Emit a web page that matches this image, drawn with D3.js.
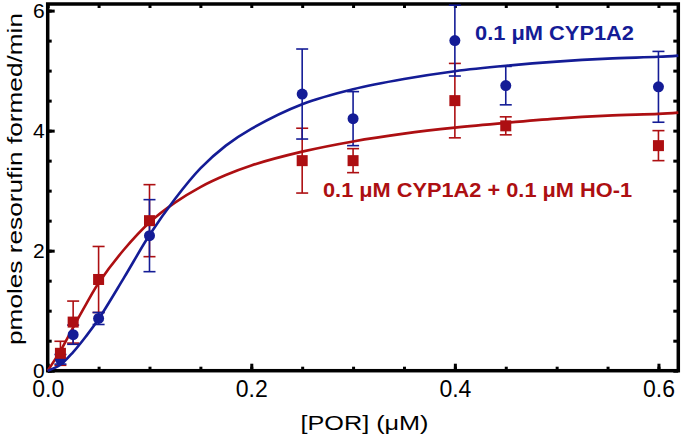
<!DOCTYPE html>
<html>
<head>
<meta charset="utf-8">
<script src="https://cdn.jsdelivr.net/npm/d3@7"></script>
<style>
  html, body { margin: 0; padding: 0; background: #fff; }
  svg { display: block; }
</style>
</head>
<body>
<svg id="chart" width="683" height="438"></svg>
<script>
// ---- data ----
const porConc = [0.0125, 0.025, 0.05, 0.1, 0.25, 0.3, 0.4, 0.45, 0.6];
const cypRate = [0.19, 0.6, 0.87, 2.25, 4.61, 4.2, 5.5, 4.75, 4.73];
const cypErr  = [0.08, 0.16, 0.1, 0.6, 0.75, 0.45, 0.59, 0.32, 0.59];
const hoRate  = [0.29, 0.81, 1.52, 2.5, 3.5, 3.5, 4.5, 4.08, 3.75];
const hoErr   = [0.2, 0.35, 0.55, 0.6, 0.54, 0.2, 0.62, 0.15, 0.25];

const fitX    = [0, 0.0125, 0.025, 0.0375, 0.05, 0.075, 0.1, 0.125, 0.15, 0.175, 0.2, 0.25, 0.3, 0.35, 0.4, 0.45, 0.5, 0.55, 0.6, 0.6195];
const cypFit  = [0, 0.1, 0.31, 0.57, 0.86, 1.55, 2.26, 2.86, 3.37, 3.75, 4.03, 4.44, 4.69, 4.86, 4.99, 5.08, 5.15, 5.2, 5.23, 5.25];
const hoFit   = [0, 0.33, 0.72, 1.1, 1.46, 2.02, 2.47, 2.8, 3.06, 3.26, 3.42, 3.65, 3.82, 3.95, 4.05, 4.13, 4.2, 4.25, 4.28, 4.3];

const xTicks = [0, 0.2, 0.4, 0.6];
const yTicks = [0, 2, 4, 6];
const xLabel = "[POR] (μM)";
const yLabel = "pmoles resorufin formed/min";
const cypLabel = "0.1 μM CYP1A2";
const hoLabel = "0.1 μM CYP1A2 + 0.1 μM HO-1";

// ---- layout ----
const blue = "#141c96", red = "#ad0f12";
const L = 47.7, R = 678.3, T = 4, B = 370.7;
const x = d3.scaleLinear().domain([0, 0.6195]).range([L, R]);
const y = d3.scaleLinear().domain([0, 6.11]).range([B, T]);
const svg = d3.select("#chart");
const font = "'Liberation Sans', Arial, Helvetica, sans-serif";

const minorX = d3.range(0, 0.62, 0.05);
const minorY = d3.range(0, 6.01, 0.5);

function styleAxis(g) {
  g.select(".domain").remove();
  g.selectAll(".tick line").attr("stroke", "#000").attr("stroke-width", 3);
}
// bottom
svg.append("g").attr("transform", `translate(0,${B})`)
  .call(d3.axisBottom(x).tickValues(minorX).tickSize(-4).tickFormat(""))
  .call(styleAxis);
svg.append("g").attr("transform", `translate(0,${B})`)
  .call(d3.axisBottom(x).tickValues(xTicks).tickSize(-7).tickPadding(0).tickFormat(d3.format(".1f")))
  .call(styleAxis)
  .call(g => g.selectAll(".tick text").attr("y", 26.5).attr("dy", 0)
     .attr("font-family", font).attr("font-size", 23).attr("fill", "#000"));
// top
svg.append("g").attr("transform", `translate(0,${T})`)
  .call(d3.axisTop(x).tickValues(minorX).tickSize(-4).tickFormat(""))
  .call(styleAxis);
// left
svg.append("g").attr("transform", `translate(${L},0)`)
  .call(d3.axisLeft(y).tickValues(minorY).tickSize(-4).tickFormat(""))
  .call(styleAxis);
svg.append("g").attr("transform", `translate(${L},0)`)
  .call(d3.axisLeft(y).tickValues(yTicks).tickSize(-7).tickFormat(d3.format("d")))
  .call(styleAxis)
  .call(g => g.selectAll(".tick text").attr("x", -3).attr("dy", "0.33em")
     .attr("font-family", font).attr("font-size", 21).attr("fill", "#000"));
// right
svg.append("g").attr("transform", `translate(${R},0)`)
  .call(d3.axisRight(y).tickValues(minorY).tickSize(-5).tickFormat(""))
  .call(styleAxis);

// frame
svg.append("rect").attr("x", L).attr("y", T).attr("width", R - L).attr("height", B - T)
  .attr("fill", "none").attr("stroke", "#000").attr("stroke-width", 3.5);

// axis titles
svg.append("text").attr("x", 364.5).attr("y", 430).attr("text-anchor", "middle")
  .attr("font-family", font).attr("font-size", 20).attr("textLength", 128)
  .attr("lengthAdjust", "spacingAndGlyphs").text(xLabel);
svg.append("text").attr("transform", "translate(22,179) rotate(-90)").attr("text-anchor", "middle")
  .attr("font-family", font).attr("font-size", 21).attr("textLength", 332)
  .attr("lengthAdjust", "spacingAndGlyphs").text(yLabel);

// error bars
function errorBars(vals, errs, color) {
  const g = svg.append("g").attr("stroke", color).attr("stroke-width", 1.6).attr("fill", "none");
  porConc.forEach((c, i) => {
    const cx = x(c), y1 = y(vals[i] + errs[i]), y2 = y(vals[i] - errs[i]);
    g.append("line").attr("x1", cx).attr("x2", cx).attr("y1", y1).attr("y2", y2);
    g.append("line").attr("x1", cx - 6).attr("x2", cx + 6).attr("y1", y1).attr("y2", y1);
    g.append("line").attr("x1", cx - 6).attr("x2", cx + 6).attr("y1", y2).attr("y2", y2);
  });
}
errorBars(hoRate, hoErr, red);
errorBars(cypRate, cypErr, blue);

// fitted curves
const line = d3.line().x(d => x(d[0])).y(d => y(d[1])).curve(d3.curveCatmullRom.alpha(0.5));
svg.append("path").datum(fitX.map((v, i) => [v, hoFit[i]]))
  .attr("d", line).attr("fill", "none").attr("stroke", red).attr("stroke-width", 2.6);
svg.append("path").datum(fitX.map((v, i) => [v, cypFit[i]]))
  .attr("d", line).attr("fill", "none").attr("stroke", blue).attr("stroke-width", 2.6);

// markers
svg.append("g").selectAll("circle").data(porConc).join("circle")
  .attr("cx", d => x(d)).attr("cy", (d, i) => y(cypRate[i])).attr("r", 5.5).attr("fill", blue);
svg.append("g").selectAll("rect").data(porConc).join("rect")
  .attr("x", d => x(d) - 5.5).attr("y", (d, i) => y(hoRate[i]) - 5.5)
  .attr("width", 11).attr("height", 11).attr("fill", red);

// legend labels
svg.append("text").attr("x", 475).attr("y", 39.5).attr("font-family", font).attr("font-weight", "bold")
  .attr("font-size", 21).attr("fill", blue).attr("textLength", 159)
  .attr("lengthAdjust", "spacingAndGlyphs").text(cypLabel);
svg.append("text").attr("x", 323).attr("y", 197).attr("font-family", font).attr("font-weight", "bold")
  .attr("font-size", 21).attr("fill", red).attr("textLength", 309)
  .attr("lengthAdjust", "spacingAndGlyphs").text(hoLabel);
</script>
</body>
</html>
